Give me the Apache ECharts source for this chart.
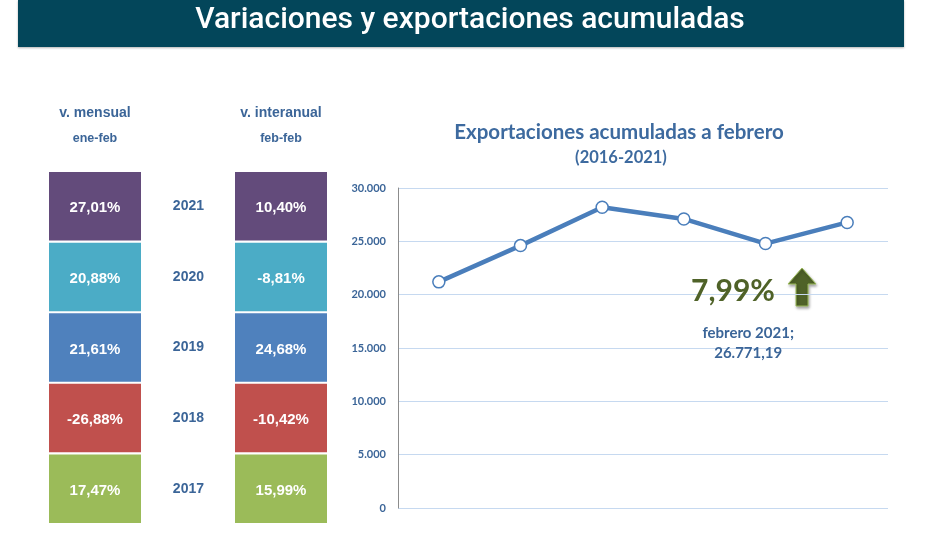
<!DOCTYPE html>
<html>
<head>
<meta charset="utf-8">
<script src="https://cdn.jsdelivr.net/npm/echarts@6/dist/echarts.min.js"></script>
<style>
  html, body { margin: 0; padding: 0; background: #fff; }
  #chart { width: 946px; height: 540px; }
</style>
</head>
<body>
<div id="chart"></div>
<script>
// tablas de variaciones (de arriba abajo)
const years = ['2021', '2020', '2019', '2018', '2017'];
const varMensual = ['27,01%', '20,88%', '21,61%', '-26,88%', '17,47%'];
const varInteranual = ['10,40%', '-8,81%', '24,68%', '-10,42%', '15,99%'];
const rowColors = ['#634b7b', '#4bacc6', '#4f81bd', '#c0504d', '#9bbb59'];

// exportaciones acumuladas a febrero
const lineYears = ['2016', '2017', '2018', '2019', '2020', '2021'];
const exportValues = [21200, 24600, 28200, 27100, 24790, 26771.19];
const yTicks = [0, 5000, 10000, 15000, 20000, 25000, 30000];
const variacion = '7,99%';

const blue = '#3b6598';
const chart = echarts.init(document.getElementById('chart'));

function cellSeries(idx, labels) {
  return {
    type: 'bar',
    xAxisIndex: idx,
    yAxisIndex: idx,
    barCategoryGap: '3%',
    silent: true,
    data: labels.map((t, i) => ({
      value: 1,
      itemStyle: { color: rowColors[i] },
      label: { formatter: t }
    })),
    label: {
      show: true,
      position: 'inside',
      offset: [0, 2],
      color: '#fff',
      fontFamily: 'Liberation Sans',
      fontWeight: 'bold',
      fontSize: 15
    }
  };
}

function head(text, x, y, size, font) {
  return {
    text: text, left: x, top: y, textAlign: 'center', padding: 0,
    textStyle: { color: blue, fontFamily: font, fontSize: size, fontWeight: 'bold' }
  };
}

const fmt = v => v.toLocaleString('de-DE');

const option = {
  animation: false,
  title: [
    head('v. mensual', 95, 106, 14, 'Liberation Sans'),
    head('ene-feb', 95, 132, 12.5, 'Liberation Sans'),
    head('v. interanual', 281, 106, 14, 'Liberation Sans'),
    head('feb-feb', 281, 132, 12.5, 'Liberation Sans'),
    {
      text: 'Exportaciones acumuladas a febrero', left: 619, top: 122, textAlign: 'center', padding: 0,
      textStyle: { color: '#3d6a9f', fontFamily: 'Lato', fontSize: 20.5, fontWeight: 'bold' }
    },
    {
      text: '(2016-2021)', left: 621, top: 149, textAlign: 'center', padding: 0,
      textStyle: { color: '#3d6a9f', fontFamily: 'Lato', fontSize: 16.5, fontWeight: 'bold' }
    },
    {
      text: variacion, left: 733, top: 276, textAlign: 'center', padding: 0,
      textStyle: { color: '#4f6228', fontFamily: 'Lato', fontSize: 30, fontWeight: 'bold' }
    }
  ],
  graphic: [
    { type: 'rect', shape: { x: 18, y: 0, width: 886, height: 47 },
      style: { fill: '#03465a', shadowColor: 'rgba(0,0,0,0.3)', shadowBlur: 2, shadowOffsetY: 1 } },
    { type: 'text', x: 470, y: 20,
      style: { text: 'Variaciones y exportaciones acumuladas', fill: '#fff', align: 'center',
        verticalAlign: 'middle', font: '500 30px Roboto' } },
    { type: 'polygon',
      shape: { points: [[802, 268], [816, 284], [808, 284], [808, 306], [796, 306], [796, 284], [788, 284]] },
      style: { fill: '#4f6228', stroke: '#9bbb59', lineWidth: 1,
        shadowColor: 'rgba(0,0,0,0.35)', shadowBlur: 3, shadowOffsetX: 1, shadowOffsetY: 2 } }
  ],
  grid: [
    { left: 49, top: 171, width: 92, height: 353 },
    { left: 235, top: 171, width: 92, height: 353 },
    { left: 398, top: 188, width: 490, height: 320 }
  ],
  xAxis: [
    { gridIndex: 0, type: 'value', min: 0, max: 1, show: false },
    { gridIndex: 1, type: 'value', min: 0, max: 1, show: false },
    { gridIndex: 2, type: 'category', data: lineYears, boundaryGap: true,
      axisLine: { show: false }, axisTick: { show: false }, axisLabel: { show: false } }
  ],
  yAxis: [
    { gridIndex: 0, type: 'category', data: years, inverse: true, show: false },
    { gridIndex: 1, type: 'category', data: years, inverse: true,
      axisLine: { show: false }, axisTick: { show: false },
      axisLabel: { margin: 31, color: blue, fontFamily: 'Liberation Sans', fontWeight: 'bold', fontSize: 14,
        padding: [4, 0, 0, 0] } },
    { gridIndex: 2, type: 'value', min: 0, max: 30000, interval: 5000,
      axisLine: { show: true, lineStyle: { color: '#8c8c8c', width: 1 } },
      axisTick: { show: false },
      splitLine: { lineStyle: { color: '#c6d9f0', width: 1 } },
      axisLabel: { margin: 12, color: blue, fontFamily: 'Lato', fontWeight: 'bold', fontSize: 11,
        formatter: v => yTicks.includes(v) ? fmt(v) : '' } }
  ],
  series: [
    cellSeries(0, varMensual),
    cellSeries(1, varInteranual),
    {
      type: 'line',
      xAxisIndex: 2,
      yAxisIndex: 2,
      data: exportValues.map((v, i) => i === exportValues.length - 1 ? {
        value: v,
        label: {
          show: true,
          position: 'bottom',
          offset: [-99, 89],
          formatter: 'febrero ' + lineYears[i] + ';\n' +
            v.toLocaleString('de-DE', { minimumFractionDigits: 2, maximumFractionDigits: 2 }),
          color: blue, fontFamily: 'Lato', fontWeight: 'bold', fontSize: 15, lineHeight: 20, align: 'center'
        }
      } : v),
      symbol: 'circle',
      symbolSize: 12,
      lineStyle: { color: '#4a7ebb', width: 4.5 },
      itemStyle: { color: '#fff', borderColor: '#4a7ebb', borderWidth: 1.5 }
    }
  ]
};

chart.setOption(option);
</script>
</body>
</html>
